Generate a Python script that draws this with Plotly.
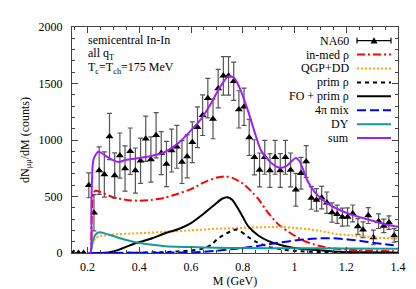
import plotly.graph_objects as go

# ---------------- data ----------------
na60_m = [0.145 + 0.02 * i for i in range(63)]
na60_y = [0, 0, 0, 599, 356, 729, 695, 1031, 686, 862, 748, 901, 729, 816, 1011, 828, 1042, 884,
          788, 907, 940, 805, 855, 980, 1113, 1220, 1370, 1186, 1455, 1568, 1568, 1520, 1271, 1294,
          1023, 847, 735, 847, 730, 847, 730, 847, 735, 560, 706, 810, 487, 470, 490, 445, 358,
          343, 318, 319, 350, 235, 206, 331, 138, 282, 240, 269, 155]
na60_err = [0, 0, 0, 110, 160, 210, 200, 205, 200, 200, 200, 205, 200, 200, 200, 200, 200, 190,
            200, 190, 190, 190, 190, 180, 180, 180, 175, 175, 170, 170, 170, 170, 165, 165,
            160, 155, 150, 150, 150, 150, 150, 150, 150, 145, 140, 140, 100, 100, 100, 95, 85,
            80, 80, 80, 75, 70, 70, 70, 65, 65, 60, 60, 60]

inmed_m = [0.2, 0.211, 0.216, 0.221, 0.23, 0.25, 0.3, 0.35, 0.4, 0.45, 0.5, 0.55, 0.6, 0.65, 0.7,
           0.73, 0.76, 0.8, 0.84, 0.86, 0.9, 0.94, 0.99, 1.04, 1.09, 1.14, 1.2, 1.3, 1.4]
inmed_y = [0, 0, 300, 520, 550, 540, 492, 470, 462, 470, 490, 525, 565, 625, 668,
           678, 665, 615, 530, 478, 350, 248, 168, 104, 66, 42, 30, 20, 14]

qgp_m = [0.2, 0.211, 0.22, 0.23, 0.25, 0.3, 0.4, 0.5, 0.6, 0.7, 0.8, 0.9, 0.95, 1.0, 1.05, 1.1,
         1.16, 1.2, 1.3, 1.4]
qgp_y = [0, 0, 90, 130, 150, 165, 175, 187, 200, 215, 222, 230, 230, 222, 212, 195,
         168, 160, 140, 125]

prim_m = [0.2, 0.3, 0.4, 0.5, 0.55, 0.6, 0.65, 0.68, 0.7, 0.73, 0.76, 0.775, 0.79, 0.81, 0.85,
          0.9, 0.95, 1.0, 1.1, 1.2, 1.4]
prim_y = [0, 0, 3, 8, 14, 22, 40, 75, 120, 165, 200, 208, 195, 160, 100,
          55, 32, 18, 8, 4, 1]

fo_m = [0.2, 0.25, 0.28, 0.32, 0.38, 0.45, 0.5, 0.55, 0.6, 0.65, 0.7, 0.72, 0.74, 0.76, 0.78,
        0.8, 0.82, 0.86, 0.9, 0.95, 1.0, 1.06, 1.15, 1.25, 1.4]
fo_y = [0, 0, 5, 28, 82, 130, 175, 210, 265, 350, 445, 480, 494, 470, 400,
        320, 240, 155, 105, 68, 45, 30, 14, 6, 2]

mix_m = [0.2, 0.4, 0.6, 0.65, 0.7, 0.75, 0.8, 0.85, 0.9, 0.95, 1.0, 1.05, 1.1, 1.15, 1.2,
         1.25, 1.3, 1.35, 1.4]
mix_y = [0, 2, 5, 10, 20, 32, 45, 60, 78, 95, 110, 122, 130, 130, 122,
         108, 92, 78, 65]

dy_m = [0.2, 0.211, 0.22, 0.23, 0.245, 0.26, 0.3, 0.35, 0.4, 0.45, 0.5, 0.6, 0.7, 0.8, 1.0,
        1.2, 1.4]
dy_y = [0, 0, 100, 160, 183, 178, 150, 115, 88, 72, 60, 52, 47, 44, 42, 40, 38]

sum_m = [0.2, 0.211, 0.215, 0.22, 0.225, 0.24, 0.25, 0.27, 0.3, 0.32, 0.35, 0.4, 0.45, 0.5,
         0.55, 0.6, 0.64, 0.68, 0.71, 0.74, 0.755, 0.77, 0.79, 0.82, 0.85, 0.87, 0.9, 0.93,
         0.95, 0.97, 0.99, 1.005, 1.02, 1.035, 1.05, 1.08, 1.12, 1.17, 1.22, 1.28, 1.35, 1.4]
sum_y = [0, 0, 450, 780, 840, 895, 890, 860, 820, 805, 825, 840, 860, 895,
         970, 1085, 1190, 1335, 1460, 1555, 1565, 1540, 1450, 1260, 1040, 910, 820, 765,
         755, 770, 815, 840, 810, 730, 640, 535, 450, 385, 340, 300, 255, 232]

x_ticks = [0.2, 0.4, 0.6, 0.8, 1.0, 1.2, 1.4]
x_ticktext = ["0.2", "0.4", "0.6", "0.8", "1", "1.2", "1.4"]
y_ticks = [0, 500, 1000, 1500, 2000]

legend_labels = ["NA60", "in-med ρ", "QGP+DD", "prim ρ", "FO + prim ρ", "4π mix", "DY", "sum"]

# ---------------- styles ----------------
FONT = "Liberation Serif"
FS = 12
styles = {
    "in-med ρ": dict(color="#ff0000", dash="8px,3px,2px,3px", width=2),
    "QGP+DD": dict(color="#ffa500", dash="2px,2px", width=2),
    "prim ρ": dict(color="#000000", dash="4px,4px", width=2),
    "FO + prim ρ": dict(color="#000000", dash="solid", width=2),
    "4π mix": dict(color="#0000ff", dash="9px,4px", width=2),
    "DY": dict(color="#139a9a", dash="solid", width=2),
    "sum": dict(color="#a020f0", dash="solid", width=2),
}

fig = go.Figure()

fig.add_trace(go.Scatter(
    x=na60_m, y=na60_y, mode="markers",
    marker=dict(symbol="triangle-up", size=7, color="black"),
    error_y=dict(type="data", array=na60_err, visible=True, color="#555555",
                 thickness=1.2, width=2.5),
    showlegend=False))

curves = [("in-med ρ", inmed_m, inmed_y), ("QGP+DD", qgp_m, qgp_y), ("prim ρ", prim_m, prim_y),
          ("FO + prim ρ", fo_m, fo_y), ("4π mix", mix_m, mix_y), ("DY", dy_m, dy_y),
          ("sum", sum_m, sum_y)]
for name, xs, ys in curves:
    fig.add_trace(go.Scatter(x=xs, y=ys, mode="lines", line=dict(shape="spline", smoothing=0.6,
                                                                    **styles[name]),
                             showlegend=False, name=name))

# ---------------- layout geometry ----------------
W, H = 416, 289
L, R, T, B = 64, 26, 18, 34
pw, ph = W - L - R, H - T - B


def px(xp):
    return (xp - L) / pw


def py(yp):
    return (H - B - yp) / ph


annotations = []
shapes = []

# manual legend (text right, sample left)
row0, dy_row = 32.3, 14.6
for k, lab in enumerate(legend_labels):
    yy = py(row0 + k * dy_row)
    annotations.append(dict(x=px(343), y=yy, xref="paper", yref="paper", text=lab,
                            showarrow=False, xanchor="right", yanchor="middle",
                            font=dict(family=FONT, size=FS, color="black")))
    if lab == "NA60":
        shapes.append(dict(type="line", xref="paper", yref="paper", x0=px(349), x1=px(383),
                           y0=yy, y1=yy, line=dict(color="black", width=1.2)))
        for xe in (349, 383):
            shapes.append(dict(type="line", xref="paper", yref="paper", x0=px(xe), x1=px(xe),
                               y0=yy - 3 / ph, y1=yy + 3 / ph, line=dict(color="black", width=1.2)))
        cx = px(366)
        shapes.append(dict(type="path", xref="paper", yref="paper",
                           path=f"M {cx - 3.5 / pw} {yy - 3 / ph} L {cx + 3.5 / pw} {yy - 3 / ph} "
                                f"L {cx} {yy + 3.5 / ph} Z",
                           fillcolor="black", line=dict(color="black", width=0)))
    else:
        st = styles[lab]
        shapes.append(dict(type="line", xref="paper", yref="paper", x0=px(349), x1=px(383),
                           y0=yy, y1=yy, line=dict(color=st["color"], width=st["width"],
                                                   dash=st["dash"])))

# top-left text
info = ["semicentral In-In", "all q<sub>T</sub>", "T<sub>c</sub>=T<sub>ch</sub>=175 MeV"]
for k, t in enumerate(info):
    annotations.append(dict(x=px(78), y=py(31.7 + k * 14.5), xref="paper", yref="paper", text=t,
                            showarrow=False, xanchor="left", yanchor="middle",
                            font=dict(family=FONT, size=FS, color="black")))

axis_common = dict(showline=True, linecolor="#444444", linewidth=1, mirror="ticks",
                   ticks="inside", ticklen=6, tickwidth=1, tickcolor="#444444",
                   showgrid=False, zeroline=False,
                   tickfont=dict(family=FONT, size=FS, color="black"))

fig.update_layout(
    width=W, height=H, margin=dict(l=L, r=R, t=T, b=B),
    paper_bgcolor="white", plot_bgcolor="white",
    font=dict(family=FONT, size=FS, color="black"),
    xaxis=dict(range=[0.14, 1.4], tickvals=x_ticks, ticktext=x_ticktext,
               minor=dict(dtick=0.05, tick0=0, ticks="inside", ticklen=3, tickcolor="#444444"),
               title=dict(text="M (GeV)", font=dict(family=FONT, size=FS), standoff=2),
               ticklabelstandoff=3, **axis_common),
    yaxis=dict(range=[0, 2000], tickvals=y_ticks,
               minor=dict(dtick=100, ticks="inside", ticklen=3, tickcolor="#444444"),
               title=dict(text="dN<sub>μμ</sub>/dM (counts)", font=dict(family=FONT, size=FS),
                          standoff=6),
               ticklabelstandoff=6, **axis_common),
    annotations=annotations, shapes=shapes,
)

fig.write_html("out.html")
